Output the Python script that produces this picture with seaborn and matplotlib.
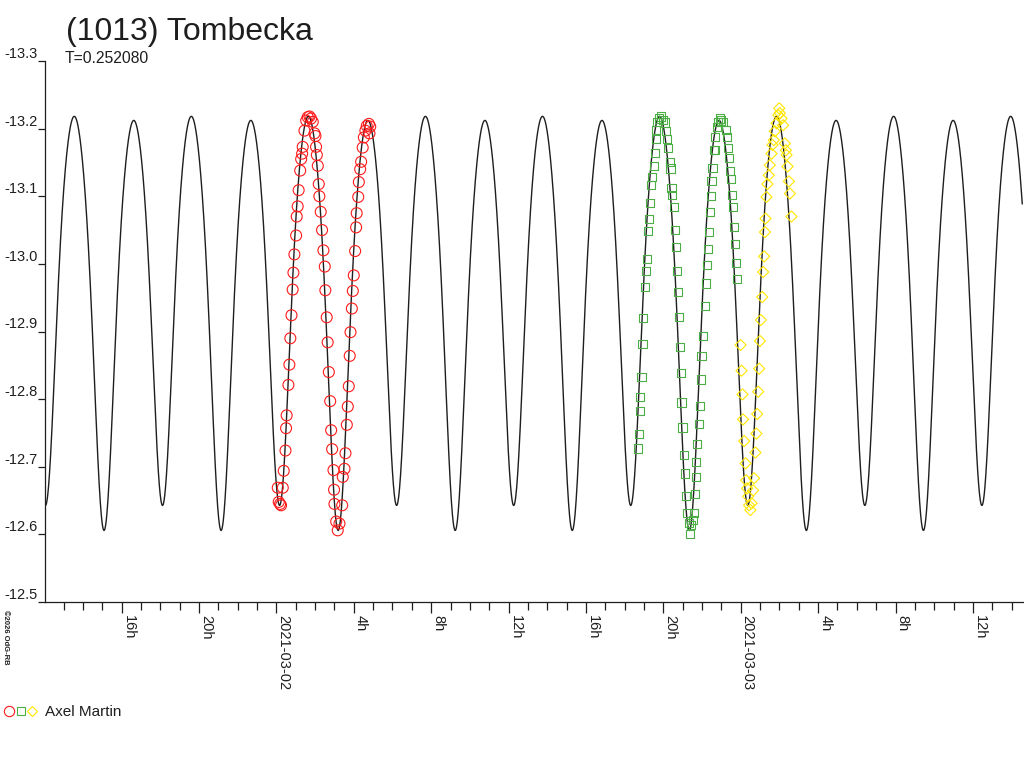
import numpy as np
import pandas as pd
import matplotlib
matplotlib.use("Agg")
import matplotlib.pyplot as plt
import seaborn as sns
from matplotlib.legend_handler import HandlerTuple
from matplotlib.lines import Line2D
from matplotlib.ticker import FixedLocator

# ---------------- text ----------------
TITLE = "(1013) Tombecka"
PERIOD_TEXT = "T=0.252080"
OBSERVER = "Axel Martin"
COPYRIGHT = "©2026 OdG-RB"

# ---------------- model lightcurve (Fourier fit) ----------------
period_days = 0.252080
period_h = period_days * 24.0
epoch_h = 33.24            # time of the deeper minimum, hours after 2021-03-01 00:00
c0, c1, s1, c2, c4, c6 = -12.964, 0.0185, 0.003, 0.2879, 0.0444, 0.0074
time_range = (12.04, 62.64)   # hours after 2021-03-01 00:00 (axis span)
model_end = 62.55             # model curve stops just short of the right edge

# ---------------- observations (hours after 2021-03-01 00:00, magnitude) ----------------
red_t = [24.07, 24.12, 24.19, 24.24, 24.33, 24.38, 24.47, 24.50, 24.53, 24.62,
         24.67, 24.72, 24.78, 24.84, 24.88, 24.93, 25.02, 25.05, 25.10, 25.15,
         25.23, 25.28, 25.33, 25.36, 25.45, 25.54, 25.62, 25.71, 25.79, 25.88,
         25.97, 26.02, 26.05, 26.09, 26.14, 26.19, 26.22, 26.29, 26.36, 26.43,
         26.50, 26.53, 26.60, 26.65, 26.71, 26.78, 26.83, 26.88, 26.95, 26.98,
         27.00, 27.09, 27.17, 27.26, 27.40, 27.43, 27.52, 27.57, 27.64, 27.69,
         27.74, 27.79, 27.83, 27.90, 27.95, 28.00, 28.07, 28.12, 28.15, 28.23,
         28.26, 28.33, 28.38, 28.46, 28.52, 28.60, 28.67, 28.78, 28.81, 28.85]
red_mag = [-12.669, -12.648, -12.645, -12.643, -12.669, -12.694, -12.724, -12.757, -12.776, -12.821,
           -12.851, -12.890, -12.924, -12.962, -12.987, -13.014, -13.042, -13.070, -13.085, -13.109,
           -13.138, -13.155, -13.163, -13.173, -13.197, -13.212, -13.217, -13.218, -13.215, -13.210,
           -13.193, -13.189, -13.173, -13.161, -13.145, -13.118, -13.100, -13.077, -13.050, -13.020,
           -12.996, -12.961, -12.921, -12.884, -12.840, -12.797, -12.754, -12.726, -12.695, -12.666,
           -12.645, -12.619, -12.606, -12.616, -12.643, -12.685, -12.697, -12.720, -12.762, -12.789,
           -12.819, -12.864, -12.899, -12.934, -12.960, -12.983, -13.019, -13.054, -13.075, -13.099,
           -13.121, -13.140, -13.151, -13.172, -13.187, -13.197, -13.204, -13.207, -13.193, -13.203]

green_t = [42.69, 42.73, 42.78, 42.81, 42.87, 42.92, 42.97, 43.04, 43.09, 43.16,
           43.21, 43.26, 43.33, 43.38, 43.43, 43.50, 43.56, 43.61, 43.64, 43.68,
           43.78, 43.90, 43.99, 44.07, 44.12, 44.21, 44.25, 44.33, 44.37, 44.42,
           44.47, 44.54, 44.59, 44.64, 44.71, 44.76, 44.81, 44.85, 44.90, 44.94,
           44.99, 45.06, 45.12, 45.19, 45.25, 45.31, 45.37, 45.45, 45.54, 45.57,
           45.62, 45.68, 45.71, 45.76, 45.83, 45.88, 45.94, 45.97, 46.06, 46.14,
           46.19, 46.26, 46.30, 46.37, 46.40, 46.45, 46.49, 46.54, 46.62, 46.66,
           46.69, 46.75, 46.83, 46.92, 47.00, 47.09, 47.23, 47.30, 47.35, 47.40,
           47.44, 47.49, 47.54, 47.61, 47.66, 47.69, 47.75, 47.81]
green_mag = [-12.727, -12.749, -12.783, -12.803, -12.833, -12.881, -12.920, -12.966, -12.990, -13.007,
             -13.049, -13.067, -13.090, -13.116, -13.129, -13.145, -13.164, -13.184, -13.198, -13.210,
             -13.215, -13.218, -13.213, -13.209, -13.197, -13.185, -13.172, -13.150, -13.141, -13.112,
             -13.102, -13.084, -13.050, -13.025, -12.990, -12.959, -12.922, -12.877, -12.839, -12.795,
             -12.758, -12.718, -12.690, -12.657, -12.631, -12.617, -12.601, -12.614, -12.621, -12.631,
             -12.660, -12.685, -12.707, -12.734, -12.763, -12.790, -12.829, -12.864, -12.894, -12.938,
             -12.971, -12.999, -13.022, -13.047, -13.077, -13.100, -13.123, -13.142, -13.168, -13.169,
             -13.187, -13.202, -13.210, -13.215, -13.212, -13.210, -13.198, -13.187, -13.172, -13.157,
             -13.138, -13.125, -13.102, -13.084, -13.054, -13.029, -13.001, -12.978]

yellow_t = [47.99, 48.04, 48.09, 48.12, 48.18, 48.25, 48.28, 48.33, 48.38, 48.43,
            48.50, 48.56, 48.64, 48.69, 48.76, 48.81, 48.85, 48.90, 48.95, 48.99,
            49.04, 49.11, 49.16, 49.21, 49.25, 49.28, 49.33, 49.38, 49.45, 49.50,
            49.59, 49.64, 49.71, 49.76, 49.85, 49.94, 49.99, 50.02, 50.11, 50.19,
            50.28, 50.33, 50.37, 50.42, 50.49, 50.54, 50.62]
yellow_mag = [-12.880, -12.842, -12.807, -12.770, -12.738, -12.705, -12.680, -12.668, -12.656, -12.643,
              -12.636, -12.646, -12.665, -12.683, -12.721, -12.749, -12.778, -12.811, -12.845, -12.886,
              -12.917, -12.951, -12.988, -13.011, -13.047, -13.067, -13.099, -13.118, -13.131, -13.146,
              -13.163, -13.176, -13.183, -13.196, -13.208, -13.220, -13.230, -13.223, -13.215, -13.205,
              -13.178, -13.168, -13.161, -13.144, -13.122, -13.104, -13.070]

# ---------------- axes ticks ----------------
major_ticks = [16, 20, 24, 28, 32, 36, 40, 44, 48, 52, 56, 60]
major_labels = ["16h", "20h", "2021-03-02", "4h", "8h", "12h",
                "16h", "20h", "2021-03-03", "4h", "8h", "12h"]
minor_ticks = [h for h in range(13, 63) if h not in major_ticks]
y_ticks = [-13.3, -13.2, -13.1, -13.0, -12.9, -12.8, -12.7, -12.6, -12.5]
y_labels = ["-13.3", "-13.2", "-13.1", "-13.0", "-12.9", "-12.8", "-12.7", "-12.6", "-12.5"]

# ---------------- styling ----------------
RED, GREEN, YELLOW = "#ff1a1a", "#4caf46", "#ffe600"
INK = "#1e1e1e"

sns.set_style("white")
plt.rcParams["font.family"] = ["Liberation Sans", "DejaVu Sans"]
plt.rcParams["axes.unicode_minus"] = False

fig = plt.figure(figsize=(10.24, 7.68), dpi=100)
ax = fig.add_axes([45 / 1024, 1 - 602 / 768, 1 - 45 / 1024, (602 - 61) / 768])

# model curve
t_model = np.linspace(time_range[0], model_end, 5000)
x = 2 * np.pi * (t_model - epoch_h) / period_h
m_model = (c0 + c1 * np.cos(x) + s1 * np.sin(x) + c2 * np.cos(2 * x)
           + c4 * np.cos(4 * x) + c6 * np.cos(6 * x))
model_df = pd.DataFrame({"t": t_model, "mag": m_model})
sns.lineplot(data=model_df, x="t", y="mag", ax=ax, color=INK, linewidth=1.0,
             estimator=None, sort=False)

red_df = pd.DataFrame({"t": red_t, "mag": red_mag})
green_df = pd.DataFrame({"t": green_t, "mag": green_mag})
yellow_df = pd.DataFrame({"t": yellow_t, "mag": yellow_mag})

sns.scatterplot(data=red_df, x="t", y="mag", ax=ax, marker="o", s=62,
                facecolor="none", edgecolor=RED, linewidth=0.8, zorder=3)
sns.scatterplot(data=green_df, x="t", y="mag", ax=ax, marker="s", s=34,
                facecolor="none", edgecolor=GREEN, linewidth=0.8, zorder=3)
sns.scatterplot(data=yellow_df, x="t", y="mag", ax=ax, marker="D", s=32,
                facecolor="none", edgecolor=YELLOW, linewidth=0.8, zorder=3)

ax.set_xlim(*time_range)
ax.set_ylim(-12.5, -13.3)
ax.set_xlabel("")
ax.set_ylabel("")

for side in ("top", "right"):
    ax.spines[side].set_visible(False)
for side in ("left", "bottom"):
    ax.spines[side].set_color(INK)
    ax.spines[side].set_linewidth(0.9)

ax.set_yticks(y_ticks)
ax.set_yticklabels(y_labels, va="bottom")
ax.set_xticks(major_ticks)
ax.set_xticklabels(major_labels, rotation=-90, ha="left", va="top")
ax.xaxis.set_minor_locator(FixedLocator(minor_ticks))

ax.tick_params(axis="y", which="major", direction="out", length=5, width=0.9,
               color=INK, labelcolor=INK, labelsize=10.5, pad=0.5, left=True)
ax.tick_params(axis="x", which="major", direction="out", length=8, width=0.9,
               color=INK, labelcolor=INK, labelsize=10.5, pad=1.5, bottom=True)
ax.tick_params(axis="x", which="minor", direction="out", length=6, width=0.9,
               color=INK, bottom=True)

# titles
fig.text(66 / 1024, 1 - 40 / 768, TITLE, fontsize=23, color=INK, va="baseline", ha="left")
fig.text(65 / 1024, 1 - 63 / 768, PERIOD_TEXT, fontsize=11.3, color=INK, va="baseline", ha="left")
fig.text(2 / 1024, 1 - 610 / 768, COPYRIGHT, fontsize=5.5, color=INK, rotation=-90,
         ha="left", va="top", fontweight="bold")

# legend
h_red = Line2D([], [], ls="", marker="o", ms=7.4, mfc="none", mec=RED, mew=0.8)
h_green = Line2D([], [], ls="", marker="s", ms=5.6, mfc="none", mec=GREEN, mew=0.8)
h_yellow = Line2D([], [], ls="", marker="D", ms=5.4, mfc="none", mec=YELLOW, mew=0.8)
fig.legend([(h_red, h_green, h_yellow)], [OBSERVER],
           handler_map={tuple: HandlerTuple(ndivide=None, pad=0.0)},
           loc="center left", bbox_to_anchor=(3 / 1024, 1 - 712 / 768),
           frameon=False, fontsize=11, handlelength=2.3, handletextpad=0.45,
           borderpad=0, borderaxespad=0, labelcolor=INK)

fig.savefig("out.png", dpi=100, facecolor="white")
